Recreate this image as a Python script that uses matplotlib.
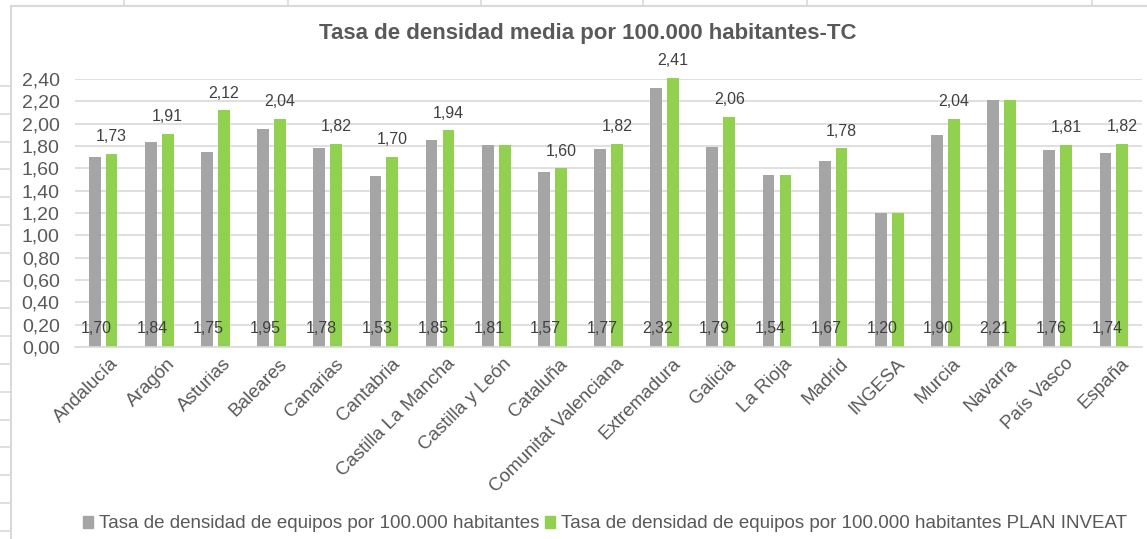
import matplotlib
matplotlib.use("Agg")
import matplotlib.pyplot as plt
import matplotlib.transforms as mtransforms
from matplotlib.lines import Line2D
from matplotlib.patches import Rectangle
import numpy as np

plt.rcParams['font.family'] = ['Liberation Sans', 'DejaVu Sans']

regiones = ["Andalucía", "Aragón", "Asturias", "Baleares", "Canarias", "Cantabria",
            "Castilla La Mancha", "Castilla y León", "Cataluña", "Comunitat Valenciana",
            "Extremadura", "Galicia", "La Rioja", "Madrid", "INGESA", "Murcia",
            "Navarra", "País Vasco", "España"]
tasa_actual = [1.70, 1.84, 1.75, 1.95, 1.78, 1.53, 1.85, 1.81, 1.57, 1.77,
               2.32, 1.79, 1.54, 1.67, 1.20, 1.90, 2.21, 1.76, 1.74]
tasa_inveat = [1.73, 1.91, 2.12, 2.04, 1.82, 1.70, 1.94, 1.81, 1.60, 1.82,
               2.41, 2.06, 1.54, 1.78, 1.20, 2.04, 2.21, 1.81, 1.82]
ticks_y = [0.0, 0.2, 0.4, 0.6, 0.8, 1.0, 1.2, 1.4, 1.6, 1.8, 2.0, 2.2, 2.4]

GRIS = '#A5A5A5'
VERDE = '#92D050'
TEXTO = '#595959'
REJILLA = '#D9D9D9'

W, H = 1147, 539
fig = plt.figure(figsize=(W / 100, H / 100), dpi=100)

# bordes de celdas de la hoja alrededor del grafico
borde = '#D9D9D9'
fig.add_artist(Line2D([11 / W, 1], [1 - 6 / H] * 2, color=borde, lw=1.5))
fig.add_artist(Line2D([11 / W] * 2, [1 - 6 / H, 0], color=borde, lw=1.5))
for xc in [124, 288, 481, 643, 807, 1092]:
    fig.add_artist(Line2D([xc / W] * 2, [1, 1 - 6 / H], color=borde, lw=1.2))
for yr in np.arange(86, 540, 27.8):
    fig.add_artist(Line2D([0, 11 / W], [1 - yr / H] * 2, color=borde, lw=1.2))

ax = fig.add_axes([75 / W, 1 - 347 / H, (1142 - 75) / W, (347 - 79) / H])

x = np.arange(len(regiones))
ancho = 0.21
desp = 0.15
ax.bar(x - desp, tasa_actual, ancho, color=GRIS, zorder=2, clip_on=False)
ax.bar(x + desp, tasa_inveat, ancho, color=VERDE, zorder=2, clip_on=False)

# etiquetas de la serie gris en la base de la barra
for xi, v in zip(x, tasa_actual):
    ax.text(xi - desp + 0.03, 0.17, f"{v:.2f}".replace('.', ','), ha='center', va='center',
            fontsize=11.5, color='#404040', zorder=3)

# etiquetas de la serie verde encima, solo si cambia el valor
for xi, v, g in zip(x, tasa_inveat, tasa_actual):
    if abs(v - g) > 1e-9:
        ax.annotate(f"{v:.2f}".replace('.', ','), (xi + desp, v), xytext=(0, 7),
                    textcoords='offset points', ha='center', va='bottom',
                    fontsize=11.5, color='#404040', annotation_clip=False)

ax.set_xlim(-0.5, len(regiones) - 0.5)
ax.set_ylim(0, 2.4)
ax.set_yticks(ticks_y)
ax.set_yticklabels([f"{t:.2f}".replace('.', ',') for t in ticks_y], fontsize=14, color=TEXTO)
ax.set_xticks(x)
ax.set_xticklabels(regiones, rotation=45, ha='right', va='top', rotation_mode='anchor',
                   fontsize=13.5, color=TEXTO)
ax.tick_params(axis='both', length=0)
ax.tick_params(axis='y', pad=11)
ax.tick_params(axis='x', pad=6)
desplaza = mtransforms.ScaledTranslation(7 / 100, 0, fig.dpi_scale_trans)
for lab in ax.get_xticklabels():
    lab.set_transform(lab.get_transform() + desplaza)
ax.grid(axis='y', color=REJILLA, lw=1.2, zorder=0)
ax.set_axisbelow(True)
for s in ['top', 'right', 'left']:
    ax.spines[s].set_visible(False)
ax.spines['bottom'].set_color(REJILLA)
ax.spines['bottom'].set_linewidth(1.2)

fig.text(588 / W, 1 - 33 / H, "Tasa de densidad media por 100.000 habitantes-TC",
         ha='center', va='center', fontsize=16, fontweight='bold', color=TEXTO)

manejos = [Rectangle((0, 0), 1, 1, color=GRIS), Rectangle((0, 0), 1, 1, color=VERDE)]
fig.legend(manejos, ["Tasa de densidad de equipos por 100.000 habitantes",
                     "Tasa de densidad de equipos por 100.000 habitantes PLAN INVEAT"],
           loc='center', bbox_to_anchor=(605 / W, 1 - 524 / H), ncol=2, frameon=False,
           fontsize=13.5, handlelength=0.55, handleheight=0.55, handletextpad=0.3,
           columnspacing=0.3, labelcolor=TEXTO)

fig.savefig("out.png", dpi=100, facecolor='white')
